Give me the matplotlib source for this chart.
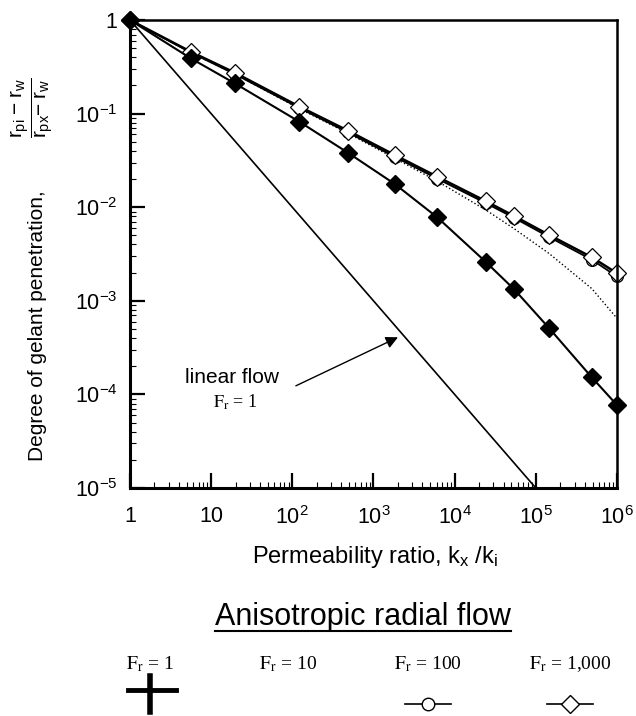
import matplotlib
matplotlib.use('Agg')
import matplotlib.pyplot as plt
from matplotlib.lines import Line2D
from matplotlib.ticker import LogLocator, FixedLocator, NullFormatter

plt.rcParams['font.family'] = ['Liberation Sans', 'DejaVu Sans']
plt.rcParams['mathtext.fontset'] = 'custom'
plt.rcParams['mathtext.rm'] = 'Liberation Sans'
plt.rcParams['mathtext.it'] = 'Liberation Sans'
plt.rcParams['mathtext.bf'] = 'Liberation Sans:bold'

# permeability ratio kx/ki at the plotted points
perm_ratio = [1, 5.6, 19.5, 122, 485, 1830, 6100, 24000, 54000, 146000, 490000, 1000000]
# degree of gelant penetration for each anisotropy Fr
pen_fr1 = [1, 0.39, 0.211, 0.082, 0.0382, 0.0177, 0.0078, 0.00262, 0.00133, 5.1e-4, 1.52e-4, 7.7e-5]
pen_fr10 = [1, 0.45, 0.265, 0.113, 0.0617, 0.0333, 0.019, 0.0094, 0.0059, 0.0032, 0.00135, 6.5e-4]
pen_fr100 = [1, 0.45, 0.265, 0.115, 0.063, 0.0345, 0.0202, 0.0111, 0.0077, 0.0048, 0.00275, 0.00182]
pen_fr1000 = [1, 0.459, 0.274, 0.119, 0.0657, 0.0361, 0.0212, 0.01165, 0.00805, 0.00505, 0.00292, 0.00197]
# linear flow, Fr = 1
lin_x = [1, 1e5]
lin_y = [1, 1e-5]

xticks = [1, 10, 1e2, 1e3, 1e4, 1e5, 1e6]
xticklabels = ['1', '10', r'$10^{2}$', r'$10^{3}$', r'$10^{4}$', r'$10^{5}$', r'$10^{6}$']
yticks = [1e-5, 1e-4, 1e-3, 1e-2, 1e-1, 1]
yticklabels = [r'$10^{-5}$', r'$10^{-4}$', r'$10^{-3}$', r'$10^{-2}$', r'$10^{-1}$', '1']

fig = plt.figure(figsize=(6.36, 7.16), dpi=100)
ax = fig.add_axes([0.2044, 0.3184, 0.7657, 0.6536])

ax.plot(lin_x, lin_y, color='black', lw=1.2)
ax.plot(perm_ratio, pen_fr10, color='black', lw=1.0, ls=':')
ax.plot(perm_ratio, pen_fr100, color='black', lw=1.3, marker='o', ms=8.5,
        mfc='none', mec='black', mew=0.9, clip_on=False)
ax.plot(perm_ratio, pen_fr1000, color='black', lw=1.8, marker='D', ms=9,
        mfc='white', mec='black', mew=0.9, clip_on=False)
ax.plot(perm_ratio, pen_fr1, color='black', lw=1.5, marker='D', ms=9,
        mfc='black', mec='black', clip_on=False, zorder=5)

ax.set_xscale('log')
ax.set_yscale('log')
ax.set_xlim(1, 1e6)
ax.set_ylim(1e-5, 1)

ax.xaxis.set_major_locator(FixedLocator(xticks))
ax.set_xticklabels(xticklabels)
ax.yaxis.set_major_locator(FixedLocator(yticks))
ax.set_yticklabels(yticklabels)
ax.xaxis.set_minor_locator(LogLocator(base=10, subs=range(2, 10), numticks=20))
ax.yaxis.set_minor_locator(LogLocator(base=10, subs=range(2, 10), numticks=20))
ax.xaxis.set_minor_formatter(NullFormatter())
ax.yaxis.set_minor_formatter(NullFormatter())

ax.tick_params(which='major', direction='in', length=11, width=1.6, labelsize=15.5)
ax.tick_params(axis='x', which='major', pad=13)
ax.tick_params(axis='y', which='major', pad=9)
ax.tick_params(which='minor', direction='in', length=4, width=0.8)
for s in ['left', 'bottom']:
    ax.spines[s].set_linewidth(2.2)
for s in ['top', 'right']:
    ax.spines[s].set_linewidth(1.8)

# linear flow annotation
ax.annotate('', xy=(2150, 4.2e-4), xytext=(103, 1.2e-4),
            arrowprops=dict(arrowstyle='-|>', color='black', lw=1.0,
                            mutation_scale=18))
ax.text(18, 1.5e-4, 'linear flow', fontsize=15, ha='center', va='center')
ax.text(20, 8.3e-5, r'$\mathrm{F_r}$ = 1', fontsize=13, ha='center', va='center',
        family='Liberation Serif', math_fontfamily='stix')

# axis titles
fig.text(0.5896, 1 - 557 / 716, r'Permeability ratio, $k_x$ /$k_i$', fontsize=17,
         ha='center', va='center')
fig.text(38 / 636, 1 - 326 / 716, 'Degree of gelant penetration,', fontsize=15,
         rotation=90, ha='center', va='center')
fig.text(32 / 636, 1 - 108 / 716, r'$\dfrac{r_{pi}\;\mathrm{-}\;r_w}{r_{px}\mathrm{-}\;r_w}$',
         fontsize=15, rotation=90, ha='center', va='center')

# legend block
title = fig.text(363 / 636, 1 - 617 / 716, 'Anisotropic radial flow', fontsize=22,
                 ha='center', va='center')
legend_x = [150, 288, 428, 570]
legend_labels = [r'$\mathrm{F_r}$ = 1', r'$\mathrm{F_r}$ = 10', r'$\mathrm{F_r}$ = 100',
                 r'$\mathrm{F_r}$ = 1,000']
for lx, lab in zip(legend_x, legend_labels):
    fig.text(lx / 636, 1 - 664 / 716, lab, fontsize=14, ha='center', va='center',
             family='Liberation Serif', math_fontfamily='stix')

def fx(px):
    return px / 636

def fy(py):
    return 1 - py / 716

# Fr = 1: thick cross
fig.add_artist(Line2D([fx(128), fx(176)], [fy(690), fy(690)], color='black', lw=3.5,
                      transform=fig.transFigure))
fig.add_artist(Line2D([fx(150), fx(150)], [fy(676), fy(712)], color='black', lw=4,
                      transform=fig.transFigure))
# Fr = 100: circle on line
fig.add_artist(Line2D([fx(405), fx(451)], [fy(704), fy(704)], color='black', lw=1.2,
                      transform=fig.transFigure))
fig.add_artist(Line2D([fx(428)], [fy(704)], marker='o', ms=9, mfc='white', mec='black',
                      mew=1.0, transform=fig.transFigure))
# Fr = 1000: open diamond on line
fig.add_artist(Line2D([fx(547), fx(593)], [fy(704), fy(704)], color='black', lw=1.2,
                      transform=fig.transFigure))
fig.add_artist(Line2D([fx(570)], [fy(704)], marker='D', ms=9, mfc='white', mec='black',
                      mew=1.0, transform=fig.transFigure))

# underline under the title
fig.canvas.draw()
bb = title.get_window_extent().transformed(fig.transFigure.inverted())
fig.add_artist(Line2D([bb.x0, bb.x1], [bb.y0 + 0.002, bb.y0 + 0.002], color='black', lw=1.5,
                      transform=fig.transFigure))

fig.savefig('out.png', dpi=100)
